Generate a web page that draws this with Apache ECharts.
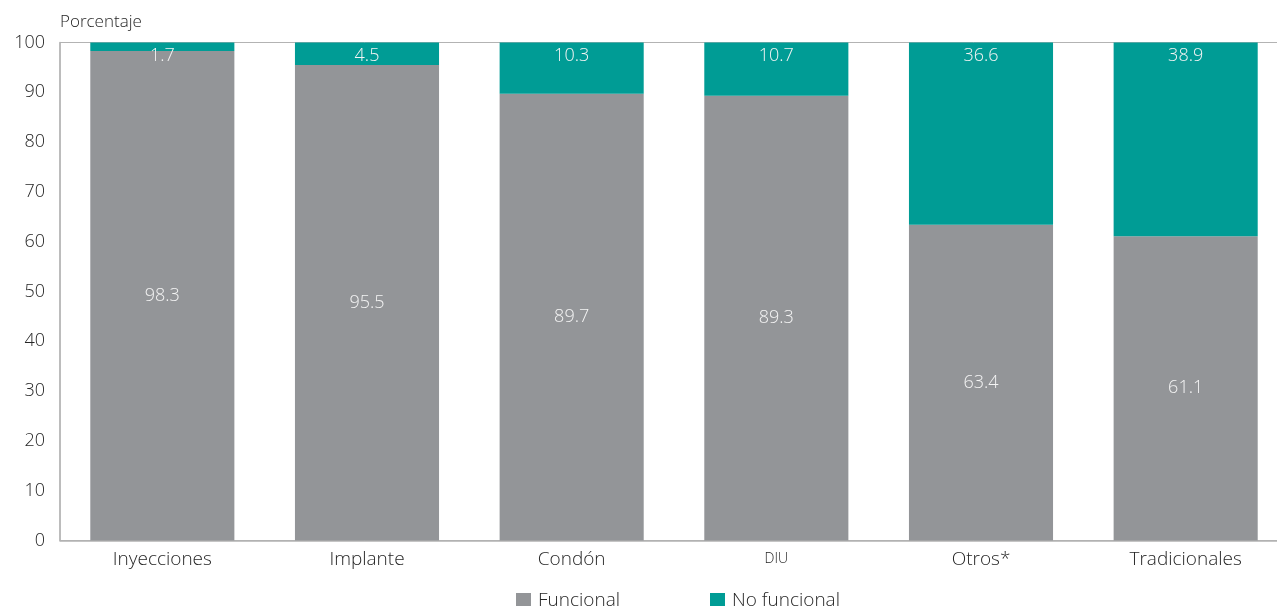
<!DOCTYPE html>
<html>
<head>
<meta charset="utf-8">
<script src="https://cdn.jsdelivr.net/npm/echarts@6/dist/echarts.min.js"></script>
<style>
  html, body { margin: 0; padding: 0; background: #fff; }
  #chart { width: 1277px; height: 606px; }
</style>
</head>
<body>
<div id="chart"></div>
<script>
// Método anticonceptivo y porcentaje funcional / no funcional
const categories = ['Inyecciones', 'Implante', 'Condón', 'DIU', 'Otros*', 'Tradicionales'];
const funcional = [98.3, 95.5, 89.7, 89.3, 63.4, 61.1];
const noFuncional = [1.7, 4.5, 10.3, 10.7, 36.6, 38.9];
const seriesNames = ['Funcional', 'No funcional'];

const FONT = '"Open Sans", sans-serif';
const TEXT = '#262626';
const AXIS = '#b3b3b3';

const chart = echarts.init(document.getElementById('chart'), null, { renderer: 'canvas' });

chart.setOption({
  animation: false,
  textStyle: { fontFamily: FONT },
  grid: {
    left: 60, top: 42.5, width: 1228, height: 498,
    outerBoundsMode: 'none',
    containLabel: false,
    show: true, borderColor: AXIS, borderWidth: 1, backgroundColor: 'transparent'
  },
  legend: {
    left: 511, top: 586,
    itemWidth: 15, itemHeight: 15, itemGap: 90,
    icon: 'rect',
    textStyle: { fontFamily: FONT, fontSize: 19, fontWeight: 300, color: TEXT, padding: [0, 0, 0, 2] },
    data: seriesNames
  },
  xAxis: {
    type: 'category',
    data: categories,
    axisLine: { show: true, lineStyle: { color: AXIS, width: 1.5 } },
    axisTick: { show: false },
    axisLabel: {
      margin: 8,
      color: TEXT,
      formatter: v => v === 'DIU' ? '{sc|' + v + '}' : '{n|' + v + '}',
      rich: {
        n: { fontSize: 19, fontWeight: 300, color: TEXT, fontFamily: FONT, lineHeight: 22, verticalAlign: 'middle' },
        sc: { fontSize: 14, fontWeight: 300, color: TEXT, fontFamily: FONT, lineHeight: 22, verticalAlign: 'middle' }
      }
    }
  },
  yAxis: {
    type: 'value',
    min: 0, max: 100, interval: 10,
    name: 'Porcentaje',
    nameLocation: 'end',
    nameGap: 12,
    nameTextStyle: { align: 'left', fontSize: 17, fontWeight: 300, color: TEXT, fontFamily: FONT },
    axisLine: { show: true, lineStyle: { color: AXIS, width: 1.5 } },
    axisTick: { show: false },
    splitLine: { show: false },
    axisLabel: { fontSize: 18, fontWeight: 300, color: TEXT, fontFamily: FONT, margin: 15 }
  },
  series: [
    {
      name: seriesNames[0],
      type: 'bar',
      stack: 'total',
      barWidth: '70.4%',
      data: funcional,
      itemStyle: { color: '#939598' },
      label: {
        show: true, position: 'inside', color: '#f4f4f4',
        fontSize: 18, fontWeight: 300, fontFamily: FONT,
        formatter: p => p.value.toFixed(1)
      }
    },
    {
      name: seriesNames[1],
      type: 'bar',
      stack: 'total',
      data: noFuncional,
      itemStyle: { color: '#009C95' },
      label: {
        show: true, position: 'insideTop', distance: 4, color: '#f4f4f4',
        fontSize: 18, fontWeight: 300, fontFamily: FONT,
        formatter: p => p.value.toFixed(1)
      }
    }
  ]
});
</script>
</body>
</html>
